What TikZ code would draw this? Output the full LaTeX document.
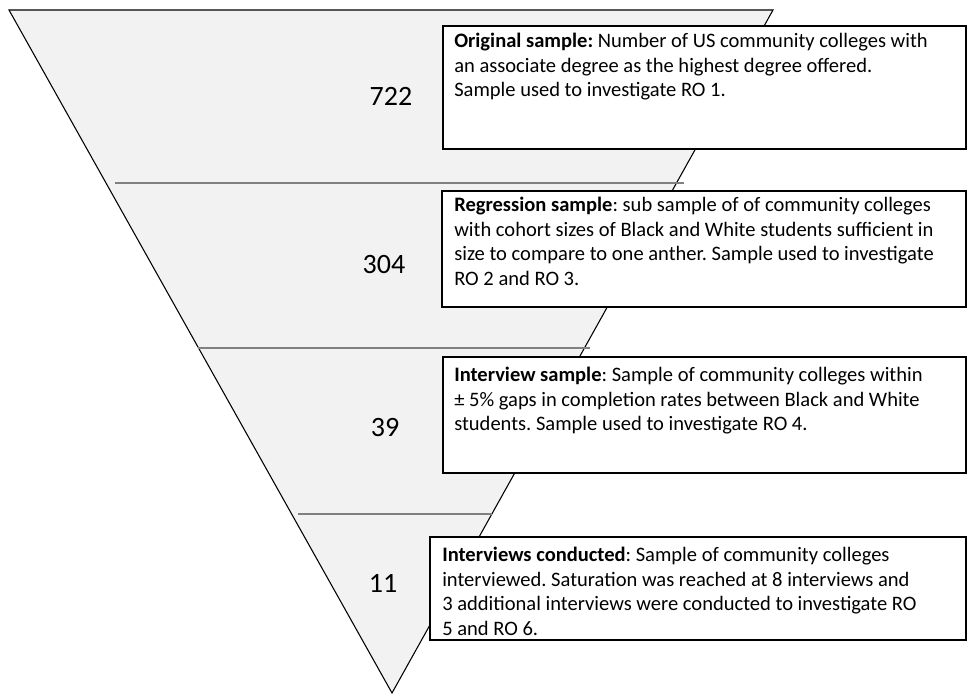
\documentclass[tikz,border=0pt]{standalone}
\usepackage{fontspec}
\setmainfont{Carlito}
\definecolor{funnelfill}{HTML}{F2F2F2}
\definecolor{divgray}{HTML}{808080}
\begin{document}
\frenchspacing
\begin{tikzpicture}[x=0.75pt,y=-0.75pt,
  infobox/.style={draw=black,line width=0.8pt,fill=white,inner sep=0pt,outer sep=0pt,anchor=north west},
  infotext/.style={inner sep=0pt,anchor=north west,align=left,font=\fontsize{15.4}{18.4}\selectfont},
  countnum/.style={inner sep=0pt,font=\fontsize{21}{25}\selectfont},
  divider/.style={draw=divgray,line width=1.5pt}]
\useasboundingbox (0,0) rectangle (967,695);
% funnel
\coordinate (tl) at (9,10);
\coordinate (tr) at (773,10);
\coordinate (tip) at (392,693);
\draw[fill=funnelfill,line width=0.8pt,line join=miter] (tl) -- (tr) -- (tip) -- cycle;
% dividers
\coordinate (d1a) at (115,183); \coordinate (d1b) at (684,183);
\coordinate (d2a) at (198,348); \coordinate (d2b) at (590,348);
\coordinate (d3a) at (298,514); \coordinate (d3b) at (492,514);
\draw[divider] (d1a) -- (d1b);
\draw[divider] (d2a) -- (d2b);
\draw[divider] (d3a) -- (d3b);
% numbers
\node[countnum] (n1) at (391,96) {722};
\node[countnum] (n2) at (384,265) {304};
\node[countnum] (n3) at (385,428) {39};
\node[countnum] (n4) at (383,583) {11};
% boxes
\node[infobox,minimum width=523*0.75pt,minimum height=123*0.75pt] (b1) at (443,26) {};
\node[infobox,minimum width=524*0.75pt,minimum height=116*0.75pt] (b2) at (442,191) {};
\node[infobox,minimum width=523*0.75pt,minimum height=116*0.75pt] (b3) at (443,357) {};
\node[infobox,minimum width=536*0.75pt,minimum height=103*0.75pt] (b4) at (430,537) {};
\node[infotext] (t1) at ([shift={(11,7)}]b1.north west) {\textbf{Original sample:} Number of US community colleges with\\an associate degree as the highest degree offered.\\Sample used to investigate RO 1.};
\node[infotext] (t2) at ([shift={(12,6)}]b2.north west) {\textbf{Regression sample}: sub sample of of community colleges\\with cohort sizes of Black and White students sufficient in\\size to compare to one anther. Sample used to investigate\\RO 2 and RO 3.};
\node[infotext] (t3) at ([shift={(11,10)}]b3.north west) {\textbf{Interview sample}: Sample of community colleges within\\± 5\% gaps in completion rates between Black and White\\students. Sample used to investigate RO 4.};
\node[infotext] (t4) at ([shift={(12,10)}]b4.north west) {\textbf{Interviews conducted}: Sample of community colleges\\interviewed. Saturation was reached at 8 interviews and\\3 additional interviews were conducted to investigate RO\\5 and RO 6.};
\end{tikzpicture}
\end{document}
